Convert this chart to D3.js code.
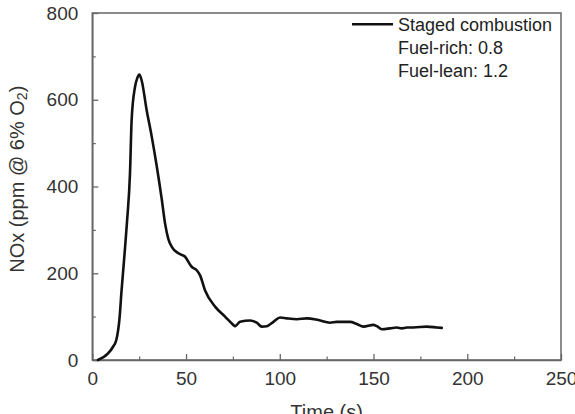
<!DOCTYPE html>
<html>
<head>
<meta charset="utf-8">
<script src="https://cdn.jsdelivr.net/npm/d3@7"></script>
<style>
  html, body { margin: 0; padding: 0; background: #fff; }
  svg { display: block; font-family: "Liberation Sans", Arial, sans-serif; }
</style>
</head>
<body>
<svg id="chart" width="575" height="414"></svg>
<script>
// ---- data ----
const timeS = [3, 8.4, 11, 12.8, 14.6, 15.5, 17.3, 18.5, 20.1, 21, 22.8, 24, 25.1, 26.3, 29, 31.7, 34.4, 37, 38.8, 40.5, 42.4, 45.9, 49.5, 53, 55.7, 57.5, 60.1, 65.5, 70.8, 75.2, 76.1, 78.8, 84.2, 87.7, 90.4, 93.1, 96.6, 100.2, 103.7, 109.1, 114.4, 120.6, 126.8, 130.4, 137.5, 141.1, 144.6, 149.9, 151.8, 154.4, 158.9, 162.4, 165.1, 167.8, 171.3, 178.4, 183.8, 186.4];
const noxPpm = [0, 15, 30, 46, 100, 154, 250, 318, 430, 555, 630, 650, 658, 645, 576, 515, 446, 372, 315, 280, 261, 246, 238, 215, 207, 195, 161, 123, 100, 81, 78, 88, 91, 86, 77, 78, 88, 98, 96, 94, 96, 92, 86, 88, 88, 83, 77, 81, 78, 71, 73, 75, 73, 75, 75, 77, 75, 74];
const xTicks = [0, 50, 100, 150, 200, 250];
const xMinorTicks = [25, 75, 125, 175, 225];
const yTicks = [0, 200, 400, 600, 800];
const yMinorTicks = [100, 300, 500, 700];
const legendLines = ["Staged combustion", "Fuel-rich: 0.8", "Fuel-lean: 1.2"];

// ---- layout ----
const svg = d3.select("#chart");
const L = 92.3, R = 561, T = 13, B = 360;
const x = d3.scaleLinear().domain([0, 250]).range([L, R]);
const y = d3.scaleLinear().domain([0, 800]).range([B, T]);
const axisColor = "#666";
const textColor = "#333";

// frame
svg.append("rect")
  .attr("x", L).attr("y", T).attr("width", R - L).attr("height", B - T)
  .attr("fill", "none").attr("stroke", axisColor).attr("stroke-width", 1.5);

// x axis (ticks inward)
const xAxis = svg.append("g").attr("transform", `translate(0,${B})`)
  .call(d3.axisBottom(x).tickValues(xTicks).tickSizeInner(-6).tickSizeOuter(0).tickPadding(12));
xAxis.select(".domain").attr("stroke", axisColor).attr("stroke-width", 1.5);
xAxis.selectAll(".tick line").attr("stroke", axisColor).attr("stroke-width", 1.3);
xAxis.selectAll(".tick text").attr("font-size", 19).attr("fill", textColor)
  .attr("font-family", "Liberation Sans, Arial, sans-serif");
const xMinor = svg.append("g").attr("transform", `translate(0,${B})`)
  .call(d3.axisBottom(x).tickValues(xMinorTicks).tickSizeInner(-3.5).tickSizeOuter(0).tickFormat(""));
xMinor.select(".domain").remove();
xMinor.selectAll(".tick line").attr("stroke", axisColor).attr("stroke-width", 1.2);

// y axis
const yAxis = svg.append("g").attr("transform", `translate(${L},0)`)
  .call(d3.axisLeft(y).tickValues(yTicks).tickSizeInner(-6).tickSizeOuter(0).tickPadding(14));
yAxis.select(".domain").attr("stroke", axisColor).attr("stroke-width", 1.5);
yAxis.selectAll(".tick line").attr("stroke", axisColor).attr("stroke-width", 1.3);
yAxis.selectAll(".tick text").attr("font-size", 19).attr("fill", textColor)
  .attr("font-family", "Liberation Sans, Arial, sans-serif");
const yMinor = svg.append("g").attr("transform", `translate(${L},0)`)
  .call(d3.axisLeft(y).tickValues(yMinorTicks).tickSizeInner(-3.5).tickSizeOuter(0).tickFormat(""));
yMinor.select(".domain").remove();
yMinor.selectAll(".tick line").attr("stroke", axisColor).attr("stroke-width", 1.2);

// data line
const pts = timeS.map((t, i) => [t, noxPpm[i]]);
svg.append("path")
  .datum(pts)
  .attr("fill", "none")
  .attr("stroke", "#111")
  .attr("stroke-width", 2.6)
  .attr("stroke-linejoin", "round")
  .attr("stroke-linecap", "round")
  .attr("d", d3.line().x(d => x(d[0])).y(d => y(d[1])).curve(d3.curveMonotoneX));

// axis titles
svg.append("text")
  .attr("x", (L + R) / 2).attr("y", 419)
  .attr("text-anchor", "middle").attr("font-size", 20).attr("fill", textColor)
  .text("Time (s)");

const yt = svg.append("text")
  .attr("transform", `translate(24,${(81.7 + 276.7) / 2}) rotate(-90)`)
  .attr("text-anchor", "middle").attr("font-size", 20).attr("fill", textColor);
yt.append("tspan").text("NOx (ppm @ 6% O");
yt.append("tspan").attr("font-size", 14).attr("dy", 3).text("2");
yt.append("tspan").attr("dy", -3).text(")");

// legend
svg.append("line")
  .attr("x1", 352).attr("x2", 393).attr("y1", 24.3).attr("y2", 24.3)
  .attr("stroke", "#111").attr("stroke-width", 2.6);
svg.selectAll(".leg").data(legendLines).enter().append("text")
  .attr("class", "leg")
  .attr("x", 398).attr("y", (d, i) => 31 + i * 22.8)
  .attr("font-size", 18).attr("fill", "#222")
  .text(d => d);
</script>
</body>
</html>
